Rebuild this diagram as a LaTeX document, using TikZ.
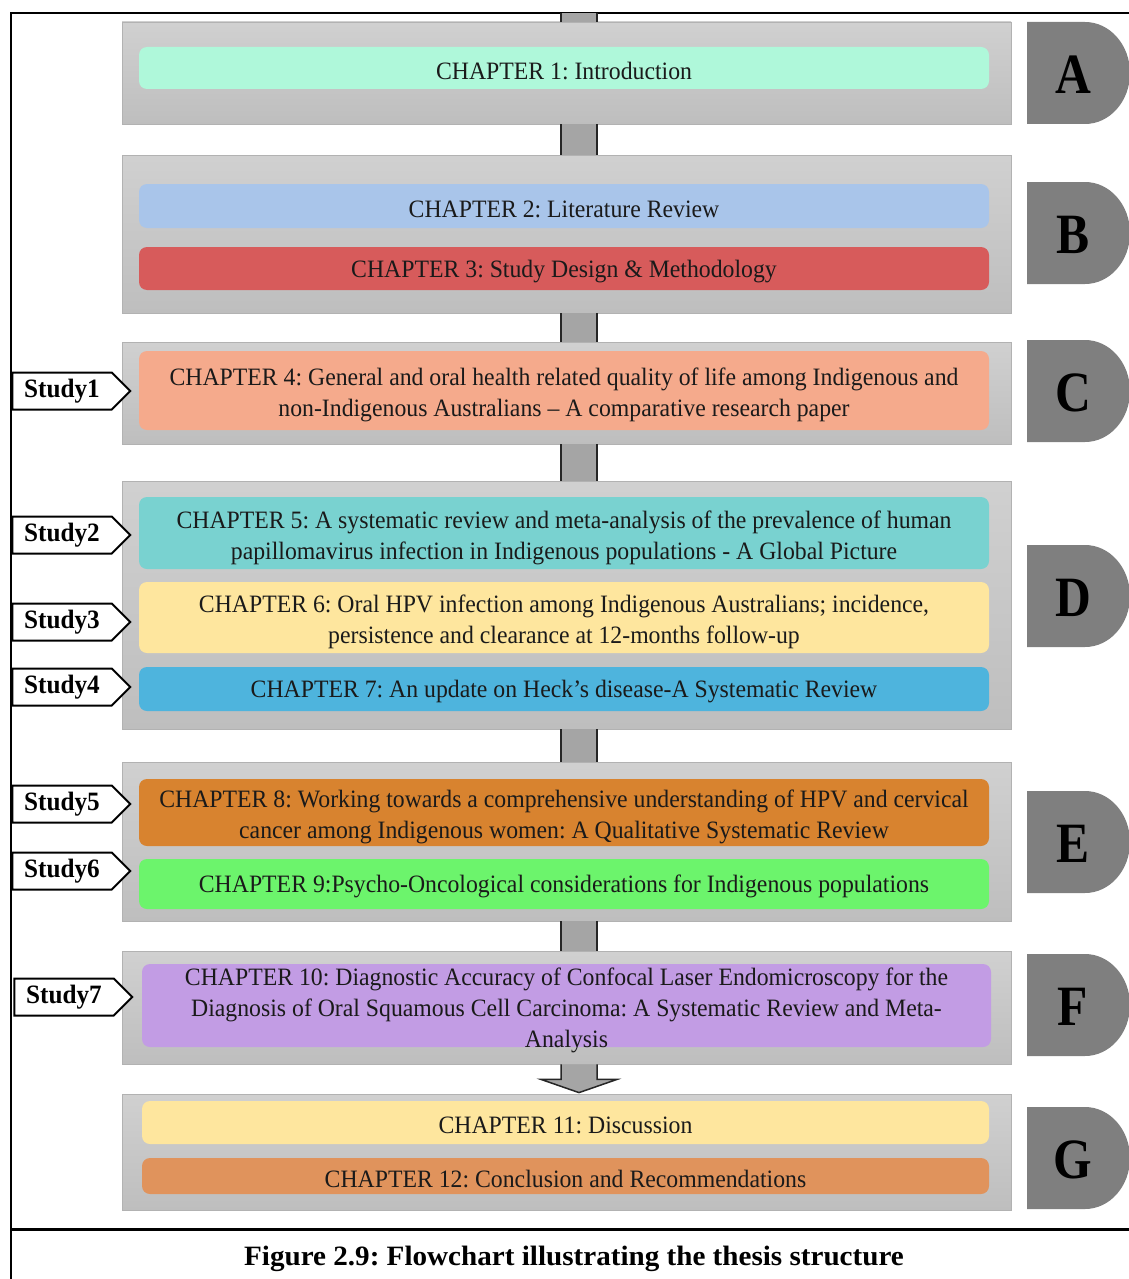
\documentclass[tikz,border=0pt]{standalone}
\usepackage{fontspec}
\setmainfont{Liberation Serif}[FakeStretch=0.95]
\newfontfamily\tabfont{Liberation Serif}[FakeStretch=0.87]
\newfontfamily\capfont{Liberation Serif}[FakeStretch=1.04]
\usetikzlibrary{shapes.symbols,calc}

\definecolor{panelgray}{HTML}{C8C8C8}
\definecolor{paneledge}{HTML}{B2B2B2}
\definecolor{bargray}{HTML}{A5A5A5}
\definecolor{tabgray}{HTML}{7F7F7F}
\definecolor{cOne}{HTML}{AFF8DA}
\definecolor{cTwo}{HTML}{A9C5EA}
\definecolor{cThree}{HTML}{D75B5B}
\definecolor{cFour}{HTML}{F5AA8C}
\definecolor{cFive}{HTML}{79D2D0}
\definecolor{cSix}{HTML}{FEE69E}
\definecolor{cSeven}{HTML}{4EB4DD}
\definecolor{cEight}{HTML}{D8832F}
\definecolor{cNine}{HTML}{6CF46C}
\definecolor{cTen}{HTML}{C29CE4}
\definecolor{cEleven}{HTML}{FEE69E}
\definecolor{cTwelve}{HTML}{E0935C}
\definecolor{inkc}{HTML}{1A1A1A}

\begin{document}
\frenchspacing
\begin{tikzpicture}[x=1pt,y=-1pt,
  panel/.style={draw=paneledge, line width=0.8pt, top color=panelgray!85!white, bottom color=panelgray!95!black,
    minimum width=889, inner sep=0pt},
  chbox/.style={rounded corners=8pt, draw=none, minimum width=850, inner sep=0pt, align=center,
    text=inkc, font=\fontsize{25}{31}\selectfont, execute at begin node={\rule{0pt}{23pt}}},
  chtext/.style={align=center, text=inkc, inner sep=0pt, yshift=-4.5pt,
    font=\fontsize{25}{31}\selectfont},
  studytag/.style={signal, signal to=east, draw=black, line width=2pt, fill=white,
    minimum height=37, minimum width=118, inner sep=0pt, font=\bfseries\fontsize{26.5}{30}\selectfont},
  tabletter/.style={font=\tabfont\bfseries\fontsize{57}{57}\selectfont, text=black},
  barfill/.style={fill=bargray},
  baredge/.style={draw=black!85, line width=2pt},
]
\useasboundingbox (0,0) rectangle (1129,1279);

% outer frame
\draw[line width=2pt] (10,13) -- (1129,13);
\draw[line width=2pt] (11,13) -- (11,1279);
\draw[line width=3pt] (10,1229) -- (1129,1229);

% coordinates for the linking bars
\coordinate (bl) at (561,0);
\coordinate (br) at (597,0);
\coordinate (topedge) at (579,13);

% grey panels
\node[panel, minimum height=102] (pA) at (566.5,73) {};
\node[panel, minimum height=158] (pB) at (566.5,234) {};
\node[panel, minimum height=102] (pC) at (566.5,393) {};
\node[panel, minimum height=248] (pD) at (566.5,605) {};
\node[panel, minimum height=159] (pE) at (566.5,841.5) {};
\node[panel, minimum height=113] (pF) at (566.5,1007.5) {};
\node[panel, minimum height=116] (pG) at (566.5,1152) {};

% linking bars between panels
\foreach \u/\v in {pA/pB,pB/pC,pC/pD,pD/pE,pE/pF}{
  \fill[barfill] (\u.south -| bl) rectangle (\v.north -| br);
  \draw[baredge] (\u.south -| bl) -- (\v.north -| bl);
  \draw[baredge] (\u.south -| br) -- (\v.north -| br);
}
\fill[barfill] (topedge -| bl) rectangle (pA.north -| br);
\draw[baredge] (topedge -| bl) -- (pA.north -| bl);
\draw[baredge] (topedge -| br) -- (pA.north -| br);

% block arrow from F to G
\draw[fill=bargray, draw=black!85, line width=1.5pt]
  ($(pF.south -| bl)$) -- ($(pF.south -| bl)+(0,15)$) -- ($(pF.south -| bl)+(-20,15)$)
  -- ($(pG.north)+(12.5,-1)$) -- ($(pF.south -| br)+(20,15)$) -- ($(pF.south -| br)+(0,15)$)
  -- (pF.south -| br);

% chapter boxes (single-line text inside, multi-line text as centred label)
\node[chbox, fill=cOne, minimum height=42] (ch1) at (564,68) {CHAPTER 1: Introduction};
\node[chbox, fill=cTwo, minimum height=44] (ch2) at (564,206) {CHAPTER 2: Literature Review};
\node[chbox, fill=cThree, minimum height=43] (ch3) at (564,268.5) {CHAPTER 3: Study Design \& Methodology};
\node[chbox, fill=cFour, minimum height=79, label={[chtext]center:{%
   CHAPTER 4: General and oral health related quality of life among Indigenous and\\
   non-Indigenous Australians -- A comparative research paper}}] (ch4) at (564,390.5) {};
\node[chbox, fill=cFive, minimum height=72, label={[chtext]center:{%
   CHAPTER 5: A systematic review and meta-analysis of the prevalence of human\\
   papillomavirus infection in Indigenous populations - A Global Picture}}] (ch5) at (564,533) {};
\node[chbox, fill=cSix, minimum height=71, label={[chtext]center:{%
   CHAPTER 6: Oral HPV infection among Indigenous Australians; incidence,\\
   persistence and clearance at 12-months follow-up}}] (ch6) at (564,617.5) {};
\node[chbox, fill=cSeven, minimum height=44] (ch7) at (564,689)
  {CHAPTER 7: An update on Heck's disease-A Systematic Review};
\node[chbox, fill=cEight, minimum height=67, label={[chtext]center:{%
   CHAPTER 8: Working towards a comprehensive understanding of HPV and cervical\\
   cancer among Indigenous women: A Qualitative Systematic Review}}] (ch8) at (564,812.5) {};
\node[chbox, fill=cNine, minimum height=50] (ch9) at (564,884)
  {CHAPTER 9:Psycho-Oncological considerations for Indigenous populations};
\node[chbox, fill=cTen, minimum height=83, minimum width=849, label={[chtext, yshift=-0.5pt]center:{%
   CHAPTER 10: Diagnostic Accuracy of Confocal Laser Endomicroscopy for the\\
   Diagnosis of Oral Squamous Cell Carcinoma: A Systematic Review and Meta-\\
   Analysis}}] (ch10) at (566.5,1005.5) {};
\node[chbox, fill=cEleven, minimum height=43, minimum width=847] (ch11) at (565.5,1122.5)
  {CHAPTER 11: Discussion};
\node[chbox, fill=cTwelve, minimum height=36, minimum width=847] (ch12) at (565.5,1176)
  {CHAPTER 12: Conclusion and Recommendations};

% study tags
\node[studytag] (s1) at (62,391) {Study1};
\node[studytag] (s2) at (62,535) {Study2};
\node[studytag] (s3) at (62,622) {Study3};
\node[studytag] (s4) at (62,687) {Study4};
\node[studytag] (s5) at (62,804) {Study5};
\node[studytag] (s6) at (62,871) {Study6};
\node[studytag] (s7) at (64,997) {Study7};

% part tabs on the right
\foreach \lab/\t in {A/22,B/182,C/340,D/545,E/791,F/954,G/1107}{
  \pgfmathsetmacro{\b}{\t+102}
  \pgfmathsetmacro{\m}{\t+51}
  \fill[tabgray] (1027,\t) -- (1085,\t)
    .. controls (1110,\t) and (1130,\m-28) .. (1130,\m)
    .. controls (1130,\m+28) and (1110,\b) .. (1085,\b)
    -- (1027,\b) -- cycle;
  \node[tabletter] (tab\lab) at (1073,\m+2) {\lab};
}

% caption
\node[font=\capfont\bfseries\fontsize{28}{28}\selectfont] (cap) at (574,1259)
  {Figure 2.9: Flowchart illustrating the thesis structure};
\end{tikzpicture}
\end{document}
